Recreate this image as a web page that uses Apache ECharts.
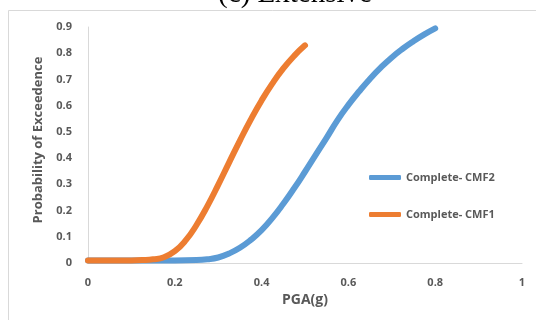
<!DOCTYPE html>
<html>
<head>
<meta charset="utf-8">
<script src="https://cdn.jsdelivr.net/npm/echarts@6/dist/echarts.min.js"></script>
<style>
  html, body { margin: 0; padding: 0; background: #fff; }
  #chart { width: 536px; height: 320px; }
</style>
</head>
<body>
<div id="chart"></div>
<script>
// PGA (g) values and exceedance probabilities
const cmf2X = [0, 0.05, 0.1, 0.15, 0.2, 0.25, 0.275, 0.3, 0.325, 0.35, 0.375, 0.4, 0.425, 0.45, 0.475,
  0.5, 0.525, 0.55, 0.575, 0.6, 0.625, 0.65, 0.675, 0.7, 0.725, 0.75, 0.775, 0.8];
const cmf2Y = [0.01, 0.01, 0.01, 0.01, 0.01, 0.011, 0.014, 0.021, 0.036, 0.058, 0.088, 0.125, 0.172, 0.226, 0.285,
  0.348, 0.413, 0.478, 0.545, 0.603, 0.655, 0.703, 0.746, 0.784, 0.817, 0.846, 0.872, 0.895];

const cmf1X = [0, 0.05, 0.1, 0.125, 0.15, 0.175, 0.2, 0.225, 0.25, 0.275, 0.3, 0.325, 0.35, 0.375,
  0.4, 0.425, 0.45, 0.475, 0.5];
const cmf1Y = [0.01, 0.01, 0.01, 0.011, 0.014, 0.022, 0.045, 0.086, 0.145, 0.217, 0.298, 0.383, 0.467, 0.547,
  0.62, 0.685, 0.742, 0.79, 0.83];

const seriesNames = ['Complete- CMF2', 'Complete- CMF1'];
const seriesColors = ['#5B9BD5', '#ED7D31'];

const pairs = (xs, ys) => xs.map((x, i) => [x, ys[i]]);

const chart = echarts.init(document.getElementById('chart'));

const labelStyle = {
  color: '#595959',
  fontFamily: 'Open Sans',
  fontWeight: 'bold',
  fontSize: 11
};

chart.setOption({
  animation: false,
  backgroundColor: '#fff',
  graphic: [
    {
      type: 'rect',
      shape: { x: 8.5, y: 10.5, width: 540, height: 320 },
      style: { fill: 'none', stroke: '#d9d9d9', lineWidth: 1 },
      silent: true
    },
    {
      // title is cut off by the top edge in the source picture
      type: 'text',
      x: 295,
      y: 9,
      style: {
        text: '(c) Extensive',
        font: '29px "Liberation Serif"',
        fill: '#000',
        align: 'center',
        verticalAlign: 'bottom'
      },
      silent: true
    },
    {
      // y axis title, placed by hand to sit a little above the plot centre
      type: 'text',
      x: 38,
      y: 140,
      rotation: Math.PI / 2,
      style: {
        text: 'Probability of Exceedence',
        font: 'bold 13px "Open Sans"',
        fill: '#595959',
        align: 'center',
        verticalAlign: 'middle'
      },
      silent: true
    }
  ],
  grid: { left: 88, right: 14, top: 27, bottom: 57 },
  legend: {
    orient: 'vertical',
    left: 364,
    top: 167,
    itemGap: 26,
    itemWidth: 32,
    itemHeight: 5,
    icon: 'roundRect',
    textStyle: { color: '#595959', fontFamily: 'Open Sans', fontWeight: 'bold', fontSize: 11 },
    data: seriesNames
  },
  xAxis: {
    type: 'value',
    min: 0,
    max: 1,
    interval: 0.2,
    name: 'PGA(g)',
    nameLocation: 'middle',
    nameGap: 26,
    nameTextStyle: { color: '#595959', fontFamily: 'Open Sans', fontWeight: 'bold', fontSize: 14 },
    axisLine: { show: true, lineStyle: { color: '#d9d9d9', width: 1 } },
    axisTick: { show: false },
    splitLine: { show: false },
    axisLabel: Object.assign({ margin: 14 }, labelStyle)
  },
  yAxis: {
    type: 'value',
    min: 0,
    max: 0.9,
    interval: 0.1,
    axisLine: { show: true, lineStyle: { color: '#d9d9d9', width: 1 } },
    axisTick: { show: false },
    splitLine: { show: false },
    axisLabel: Object.assign({ margin: 16 }, labelStyle)
  },
  series: [
    {
      name: seriesNames[0],
      type: 'line',
      data: pairs(cmf2X, cmf2Y),
      smooth: true,
      showSymbol: false,
      color: seriesColors[0],
      lineStyle: { width: 6, cap: 'round' }
    },
    {
      name: seriesNames[1],
      type: 'line',
      data: pairs(cmf1X, cmf1Y),
      smooth: true,
      showSymbol: false,
      color: seriesColors[1],
      lineStyle: { width: 6, cap: 'round' }
    }
  ]
});
</script>
</body>
</html>
